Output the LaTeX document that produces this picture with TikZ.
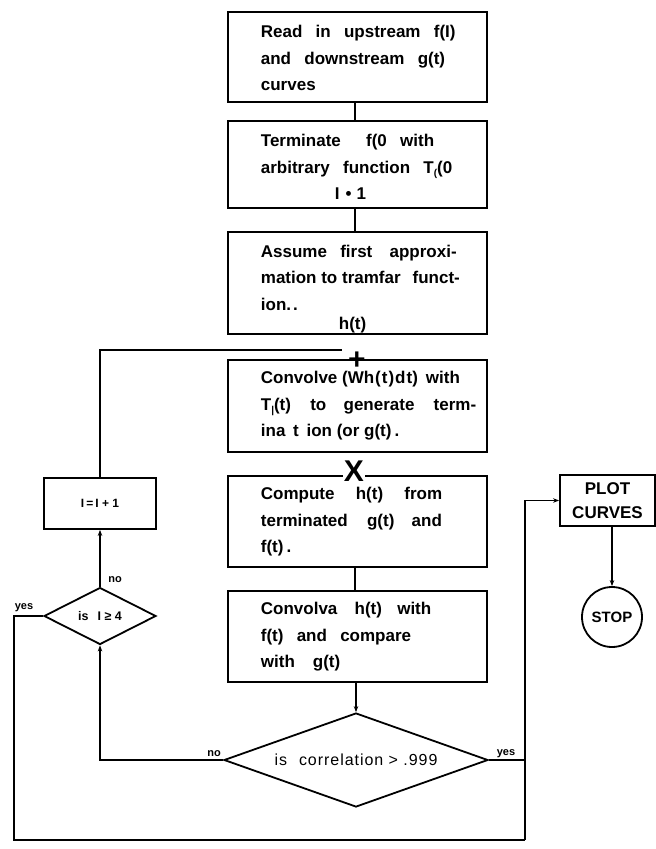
\documentclass[tikz,border=0pt]{standalone}
\usepackage{fontspec}
\setmainfont{Liberation Sans}
\usetikzlibrary{shapes.geometric,arrows.meta}
\newcommand\widesp{\spaceskip=0.78em plus 0.3em\relax}
\begin{document}
\begin{tikzpicture}[x=1pt,y=-1pt,line width=1.8pt,
  box/.style={draw, minimum width=259pt, inner sep=0pt},
  txt/.style={font=\bfseries\fontsize{17}{26.5}\selectfont, align=left, anchor=west, inner sep=0pt},
  sbox/.style={draw, inner sep=0pt, font=\bfseries\fontsize{12}{14}\selectfont},
  lbl/.style={font=\bfseries\fontsize{11}{12}\selectfont, inner sep=0pt},
  arr/.style={-{Stealth[length=6pt,width=4.5pt]}},
  sym/.style={font=\bfseries\fontsize{30}{30}\selectfont, inner sep=0pt}
]
\useasboundingbox (0,0) rectangle (656,849);

% main boxes
\node[box, minimum height=90pt]  (b1) at (357.5,57) {};
\node[box, minimum height=87pt]  (b2) at (357.5,164.5) {};
\node[box, minimum height=102pt] (b3) at (357.5,283) {};
\node[box, minimum height=92pt]  (b4) at (357.5,406) {};
\node[box, minimum height=91pt]  (b5) at (357.5,521.5) {};
\node[box, minimum height=91pt]  (b6) at (357.5,636.5) {};

\node[txt] (t1) at (260,58) {\widesp Read in upstream f(I)\\\widesp and downstream g(t)\\curves};
\node[txt] (t2) at (260,167) {\widesp Terminate\hspace{12pt} f(0 with\\\widesp arbitrary function T\raisebox{-3pt}{\fontsize{10}{10}\selectfont(}(0\\\hspace*{74pt}I\hspace{6pt}•\hspace{5pt}1};
\node[txt] (t3) at (260,289) {\widesp Assume first\hspace{4pt} approxi-\\mation to tramfar\hspace{12pt}funct-\\ion.\hspace{2pt}.\\[-7pt]\hspace*{78pt}h(t)};
\node[txt] (t4) at (260,406) {Convolve (Wh\hspace{1pt}(\hspace{1pt}t\hspace{1pt})\hspace{1pt}d\hspace{1pt}t)\hspace{8pt}with\\\widesp T\raisebox{-3pt}{\fontsize{10}{10}\selectfont|}(t)\hspace{6pt} to\hspace{4pt} generate\hspace{6pt} term-\\ina\hspace{3pt} t\hspace{3pt} ion (or g(t)\hspace{3pt}.};
\node[txt] (t5) at (260,522) {\widesp Compute\hspace{8pt} h(t)\hspace{8pt} from\\\widesp terminated\hspace{6pt} g(t)\hspace{4pt} and\\f(t)\hspace{3pt}.};
\node[txt] (t6) at (260,637) {\widesp Convolva\hspace{4pt} h(t)\hspace{2pt} with\\\widesp f(t) and compare\\with\hspace{18pt}g(t)};

% symbols on box tops
\node[sym] (plus) at (357,361) {+};
\node[sym, fill=white, inner xsep=1pt] (ex) at (354,471) {X};

% decision diamonds
\node[draw, diamond, minimum width=264pt, minimum height=94pt, inner sep=0pt, shape aspect=2.8,
      font=\fontsize{16}{17}\selectfont\addfontfeature{LetterSpace=6}] (corr) at (356,760) {is\hspace{12pt}correlation > .999};
\node[draw, diamond, minimum width=112pt, minimum height=57pt, inner sep=0pt, shape aspect=2,
      font=\bfseries\fontsize{12.5}{14}\selectfont] (d2) at (100,616) {is\hspace{9pt}I ≥ 4};

% side boxes
\node[sbox, minimum width=112pt, minimum height=51pt] (inc) at (100,503.5) {I\,=\,I + 1};
\node[draw, inner sep=0pt, minimum width=95pt, minimum height=51pt, align=center,
      font=\bfseries\fontsize{17}{24}\selectfont] (plot) at (607.5,500.5) {PLOT\\CURVES};
\node[draw, circle, minimum size=60pt, inner sep=0pt, font=\bfseries\fontsize{15}{16}\selectfont] (stop) at (612,617) {STOP};

% helper coordinates
\coordinate (cx) at (355,0);
\coordinate (loopend) at (342,350);
\coordinate (bl) at (14,840);
\coordinate (br) at (525,840);

% connectors
\draw (b1.south -| cx) -- (b2.north -| cx);
\draw (b2.south -| cx) -- (b3.north -| cx);
\draw (b5.south -| cx) -- (b6.north -| cx);
\draw[arr] (b6.south -| corr.north) -- (corr.north);
\draw[arr] (corr.west) -| (d2.south);
\draw[arr] (d2.north) -- (inc.south);
\draw (inc.north) |- (loopend);
\draw (d2.west) -| (bl) -- (br);
\draw (corr.east) -- (corr.east -| br);
\draw[arr] (br) |- (plot.west);
\draw[arr] (stop.north |- plot.south) -- (stop.north);

% labels
\node[lbl] (lno1) at (214,754) {no};
\node[lbl] (lyes1) at (506,754) {yes};
\node[lbl] (lyes2) at (24,608) {yes};
\node[lbl] (lno2) at (115,580) {no};
\end{tikzpicture}
\end{document}
